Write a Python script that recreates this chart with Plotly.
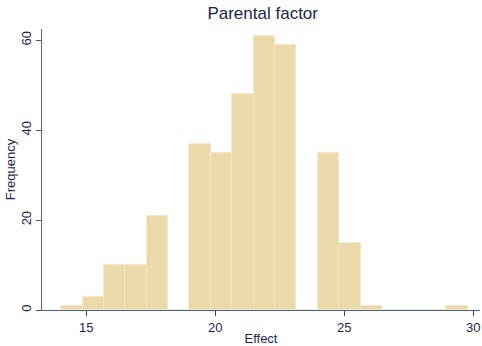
import plotly.graph_objects as go

# Histogram of the parental-factor effect: 19 equal-width bins
bin_start = 14.03
bin_width = 0.829
counts = [1, 3, 10, 10, 21, 0, 37, 35, 48, 61, 59, 0, 35, 15, 1, 0, 0, 0, 1]
x_ticks = [15, 20, 25, 30]
y_ticks = [0, 20, 40, 60]

centers = [bin_start + bin_width * (i + 0.5) for i in range(len(counts))]

ink = "#1b1f4a"
font_family = "Liberation Sans, Arial, sans-serif"

fig = go.Figure(
    go.Bar(
        x=centers,
        y=counts,
        width=[bin_width] * len(counts),
        marker=dict(color="#ebd9aa", line=dict(color="#f3e8c8", width=0.8)),
        hoverinfo="x+y",
    )
)

fig.update_layout(
    width=482,
    height=346,
    margin=dict(l=42, r=2, t=29, b=36),
    paper_bgcolor="white",
    plot_bgcolor="white",
    showlegend=False,
    bargap=0,
    title=dict(
        text="Parental factor",
        x=0.545,
        xanchor="center",
        y=0.962,
        yanchor="middle",
        font=dict(family=font_family, size=17, color=ink),
    ),
    font=dict(family=font_family, color=ink),
)

fig.update_xaxes(
    range=[13.29, 30.26],
    tickvals=x_ticks,
    ticks="outside",
    ticklen=5,
    tickcolor="#333a66",
    showline=True,
    linecolor="#4a5aa6",
    linewidth=1.2,
    showgrid=False,
    zeroline=False,
    tickfont=dict(size=13, color=ink),
    title=dict(text="Effect", font=dict(size=13, color=ink), standoff=1),
)

fig.update_yaxes(
    range=[0, 62.5],
    tickvals=y_ticks,
    tickangle=-90,
    ticks="outside",
    ticklen=5,
    tickcolor="#555",
    showline=True,
    linecolor="#666",
    linewidth=1,
    showgrid=False,
    zeroline=False,
    tickfont=dict(size=13, color=ink),
    title=dict(text="Frequency", font=dict(size=13, color=ink), standoff=0),
)

fig.write_html("out.html")
